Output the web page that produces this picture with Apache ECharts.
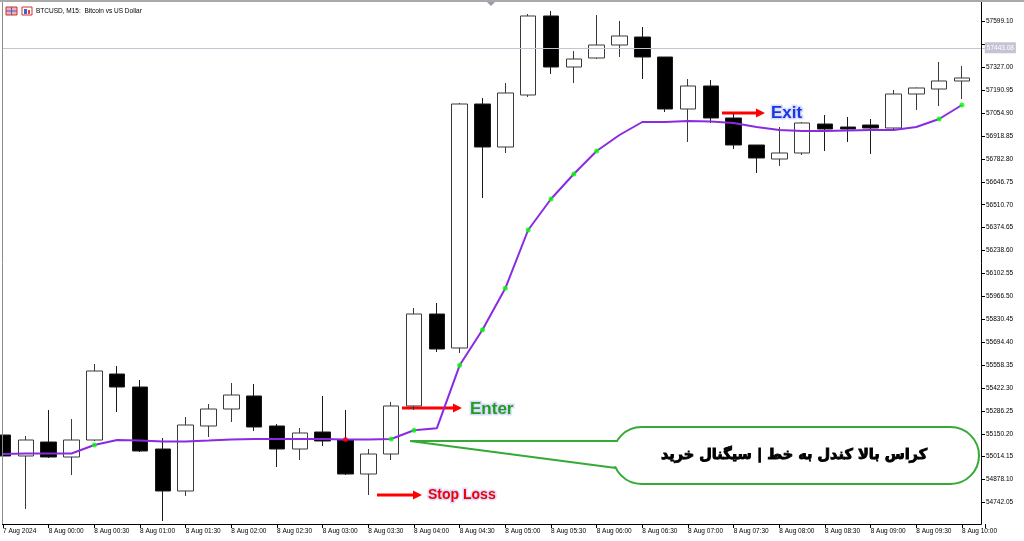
<!DOCTYPE html>
<html>
<head>
<meta charset="utf-8">
<script src="https://cdn.jsdelivr.net/npm/echarts@6/dist/echarts.min.js"></script>
<style>
html,body{margin:0;padding:0;background:#fff;}
#c{width:1024px;height:541px;}
</style>
</head>
<body>
<div id="c"></div>
<script>
// ---- data (BTCUSD M15) ----
const categories = ['7 Aug 23:30','7 Aug 23:45','8 Aug 00:00','8 Aug 00:15','8 Aug 00:30','8 Aug 00:45',
 '8 Aug 01:00','8 Aug 01:15','8 Aug 01:30','8 Aug 01:45','8 Aug 02:00','8 Aug 02:15','8 Aug 02:30','8 Aug 02:45',
 '8 Aug 03:00','8 Aug 03:15','8 Aug 03:30','8 Aug 03:45','8 Aug 04:00','8 Aug 04:15','8 Aug 04:30','8 Aug 04:45',
 '8 Aug 05:00','8 Aug 05:15','8 Aug 05:30','8 Aug 05:45','8 Aug 06:00','8 Aug 06:15','8 Aug 06:30','8 Aug 06:45',
 '8 Aug 07:00','8 Aug 07:15','8 Aug 07:30','8 Aug 07:45','8 Aug 08:00','8 Aug 08:15','8 Aug 08:30','8 Aug 08:45',
 '8 Aug 09:00','8 Aug 09:15','8 Aug 09:30','8 Aug 09:45','8 Aug 10:00',''];
const firstLabel = '7 Aug 2024';

const open  = [55142.9,55018.2,55101.3,55012.2,55113.2,55505.2,55428.0,55059.7,54810.3,55196.4,55297.3,55374.6,55196.4,55059.7,55160.7,55113.2,54911.2,55030.0,55315.2,55861.6,55659.7,57109.0,56853.6,57162.5,57631.8,57328.8,57382.3,57459.5,57507.0,57388.2,57079.3,57216.0,57025.9,56865.5,56782.3,56818.0,56990.2,56972.4,56984.3,56966.5,57168.4,57198.1,57245.7];
const close = [55018.2,55113.2,55012.2,55113.2,55523.1,55428.0,55047.9,54810.3,55202.3,55297.3,55380.5,55190.4,55059.7,55154.8,55107.3,54911.2,55030.0,55315.2,55861.6,55653.7,57109.0,56853.6,57174.4,57631.8,57328.8,57376.3,57459.5,57513.0,57388.2,57079.3,57216.0,57025.9,56865.5,56788.3,56818.0,56996.2,56960.5,56960.5,56966.5,57168.4,57204.1,57245.7,57263.5];
const low   = [55006.3,54703.3,55006.3,54905.3,55107.3,55279.5,55041.9,54632.1,54780.6,55131.0,55220.1,55166.7,54952.8,54994.4,55077.6,54905.3,54786.5,54994.4,55291.4,55635.9,55630.0,56550.7,56818.0,57150.6,57287.2,57233.8,57376.3,57388.2,57257.5,57061.5,56883.3,56996.2,56841.7,56699.2,56740.8,56806.1,56829.9,56883.3,56812.0,56960.5,57073.4,57097.2,57138.7];
const high  = [55154.8,55137.0,55291.4,55237.9,55564.6,55552.8,55469.6,55125.1,55249.8,55327.0,55451.8,55445.8,55208.2,55184.5,55374.6,55291.4,55059.7,55338.9,55897.3,55927.0,57115.0,57144.7,57233.8,57643.6,57661.5,57423.9,57637.7,57602.1,57566.4,57388.2,57257.5,57251.6,57049.6,56865.5,56972.4,57002.1,57043.7,57031.8,57019.9,57192.2,57207.0,57358.5,57334.8];

// moving average line
const ma = [55030.0,55033.0,55033.0,55033.0,55083.5,55113.2,55110.2,55104.3,55104.3,55110.2,55116.2,55119.1,55119.1,55119.1,55119.1,55116.2,55116.2,55119.1,55170.8,55182.7,55556.9,55768.4,56014.3,56360.6,56544.7,56693.2,56829.9,56924.9,57002.1,57002.1,57008.1,57005.1,56996.2,56972.4,56954.6,56948.7,56948.7,56951.6,56954.6,56954.6,56972.4,57019.9,57103.1];
const upDots = [4,17,18,20,21,22,23,24,25,26,41,42];
const downDots = [15];

const yTicks = [57599.10,57463.05,57327.00,57190.95,57054.90,56918.85,56782.80,56646.75,56510.70,56374.65,56238.60,
 56102.55,55966.50,55830.45,55694.40,55558.35,55422.30,55286.25,55150.20,55014.15,54878.10,54742.05];
const yLabelValues = yTicks.filter(v => v !== 57463.05);
const yMin = 54614.25, yMax = 57708.99;
const bidPrice = 57443.08;

const titleText = 'BTCUSD, M15:  Bitcoin vs US Dollar';
const calloutText = 'کراس بالا کندل به خط | سیگنال خرید';

// ---- chart ----
const chart = echarts.init(document.getElementById('c'), null, {renderer: 'canvas'});
const candles = open.map((o, i) => [o, close[i], low[i], high[i]]);
const axisFont = '"Liberation Sans", Arial, sans-serif';

function arrow(x1, x2, y) {
  return {
    type: 'group', z: 120, children: [
      {type: 'line', shape: {x1: x1, y1: y, x2: x2 - 7, y2: y}, style: {stroke: '#ff0000', lineWidth: 3}},
      {type: 'polygon', shape: {points: [[x2 - 9, y - 4.5], [x2, y], [x2 - 9, y + 4.5]]}, style: {fill: '#ff0000'}}
    ]
  };
}
function label(text, x, y, color, size) {
  return {
    type: 'text', x: x, y: y, z: 121,
    style: {
      text: text, fill: color, font: 'bold ' + size + 'px "Liberation Sans", Arial, sans-serif',
      textAlign: 'left', textVerticalAlign: 'middle',
      stroke: 'rgba(215,215,255,0.9)', lineWidth: 3
    }
  };
}

chart.setOption({
  animation: false,
  backgroundColor: '#ffffff',
  grid: {left: 3, right: 39.2, top: 3, bottom: 17, containLabel: false},
  xAxis: {
    type: 'category',
    data: categories,
    boundaryGap: false,
    axisLine: {show: false},
    axisTick: {show: true, interval: 1, length: 4, lineStyle: {color: '#000'}},
    axisLabel: {
      interval: 1, align: 'left', margin: 4, fontSize: 6.5, fontFamily: axisFont, color: '#000',
      showMaxLabel: true, showMinLabel: true, hideOverlap: false,
      formatter: (v, i) => i === 0 ? firstLabel : v
    },
    splitLine: {show: false}
  },
  yAxis: {
    type: 'value', position: 'right', min: yMin, max: yMax, offset: -3.8, scale: true,
    axisLine: {show: false},
    axisTick: {show: true, length: 4, customValues: yTicks, lineStyle: {color: '#000'}},
    axisLabel: {
      customValues: yLabelValues, margin: 5, fontSize: 6.5, fontFamily: axisFont, color: '#000',
      formatter: v => v.toFixed(2)
    },
    splitLine: {show: false}
  },
  series: [
    {
      type: 'candlestick',
      data: candles,
      barWidth: 16,
      clip: true,
      itemStyle: {color: '#ffffff', color0: '#000000', borderColor: '#3a3a3a', borderColor0: '#1a1a1a', borderWidth: 1},
      markLine: {
        silent: true, symbol: ['none', 'none'], animation: false,
        lineStyle: {color: '#c4c4d0', width: 1, type: 'solid'},
        label: {
          show: true, position: 'end', distance: 0, formatter: () => bidPrice.toFixed(2),
          backgroundColor: '#c4c4d4', color: '#ffffff', fontSize: 6.5, fontFamily: axisFont, padding: [2, 2]
        },
        data: [{yAxis: bidPrice}]
      }
    },
    {
      type: 'line',
      data: ma,
      symbol: 'none',
      lineStyle: {color: '#8a2be2', width: 2},
      z: 5
    },
    {
      type: 'scatter',
      data: upDots.map(i => [i, ma[i]]),
      symbolSize: 5,
      itemStyle: {color: '#00ff00'},
      z: 6
    },
    {
      type: 'scatter',
      data: downDots.map(i => [i, ma[i]]),
      symbolSize: 5,
      itemStyle: {color: '#ff0000'},
      z: 6
    }
  ],
  graphic: [
    // window top strip
    {type: 'rect', z: 100, shape: {x: 0, y: 0, width: 1024, height: 2}, style: {fill: '#a9a9a9'}},
    {type: 'polygon', z: 101, shape: {points: [[487, 2], [495, 2], [491, 6]]}, style: {fill: '#9a9aaa'}},
    // chart frame
    {type: 'line', z: 100, shape: {x1: 2.5, y1: 2, x2: 2.5, y2: 524.5}, style: {stroke: '#8c8c8c', lineWidth: 1}},
    {type: 'line', z: 100, shape: {x1: 2, y1: 524.5, x2: 981.5, y2: 524.5}, style: {stroke: '#000', lineWidth: 1}},
    {type: 'line', z: 100, shape: {x1: 981.5, y1: 2, x2: 981.5, y2: 524.5}, style: {stroke: '#000', lineWidth: 1}},
    // title icons
    {type: 'rect', z: 100, shape: {x: 6, y: 7, width: 11, height: 8}, style: {fill: '#f3b0b0', stroke: '#d03030', lineWidth: 1}},
    {type: 'line', z: 101, shape: {x1: 6, y1: 11, x2: 17, y2: 11}, style: {stroke: '#4060d0', lineWidth: 1}},
    {type: 'line', z: 101, shape: {x1: 11.5, y1: 7, x2: 11.5, y2: 15}, style: {stroke: '#4060d0', lineWidth: 1}},
    {type: 'rect', z: 100, shape: {x: 22, y: 7, width: 10, height: 8}, style: {fill: '#ffffff', stroke: '#d03030', lineWidth: 1}},
    {type: 'rect', z: 101, shape: {x: 24, y: 9, width: 3, height: 5}, style: {fill: '#4060d0'}},
    {type: 'rect', z: 101, shape: {x: 28, y: 10, width: 2, height: 4}, style: {fill: '#e04040'}},
    {type: 'text', z: 100, x: 36, y: 11.5, style: {text: titleText, fill: '#000', font: '6.5px "Liberation Sans", Arial, sans-serif', textVerticalAlign: 'middle'}},
    // annotations
    arrow(402, 462, 408), label('Enter', 470, 409, '#1e9e1e', 17),
    arrow(377, 422, 495), label('Stop Loss', 428, 495, '#f00000', 14),
    arrow(722, 765, 113), label('Exit', 771, 113, '#1538e0', 17),
    // callout bubble: rounded box + tail
    {type: 'rect', z: 110, shape: {x: 613, y: 427, width: 366, height: 57, r: 28.5},
     style: {fill: '#ffffff', stroke: '#36aa36', lineWidth: 2}},
    {type: 'polygon', z: 111, shape: {points: [[410, 441], [621, 442], [621, 467]]},
     style: {fill: '#ffffff'}},
    {type: 'line', z: 112, shape: {x1: 410, y1: 441, x2: 617.5, y2: 441}, style: {stroke: '#36aa36', lineWidth: 2}},
    {type: 'line', z: 112, shape: {x1: 410, y1: 441, x2: 616, y2: 468}, style: {stroke: '#36aa36', lineWidth: 2}},
    {
      type: 'text', z: 113, x: 794, y: 455,
      style: {text: calloutText, fill: '#000', font: 'bold 14.5px "DejaVu Sans", "Noto Sans", sans-serif',
              textAlign: 'center', textVerticalAlign: 'middle', stroke: '#000', lineWidth: 0.9}
    }
  ]
});
</script>
</body>
</html>
